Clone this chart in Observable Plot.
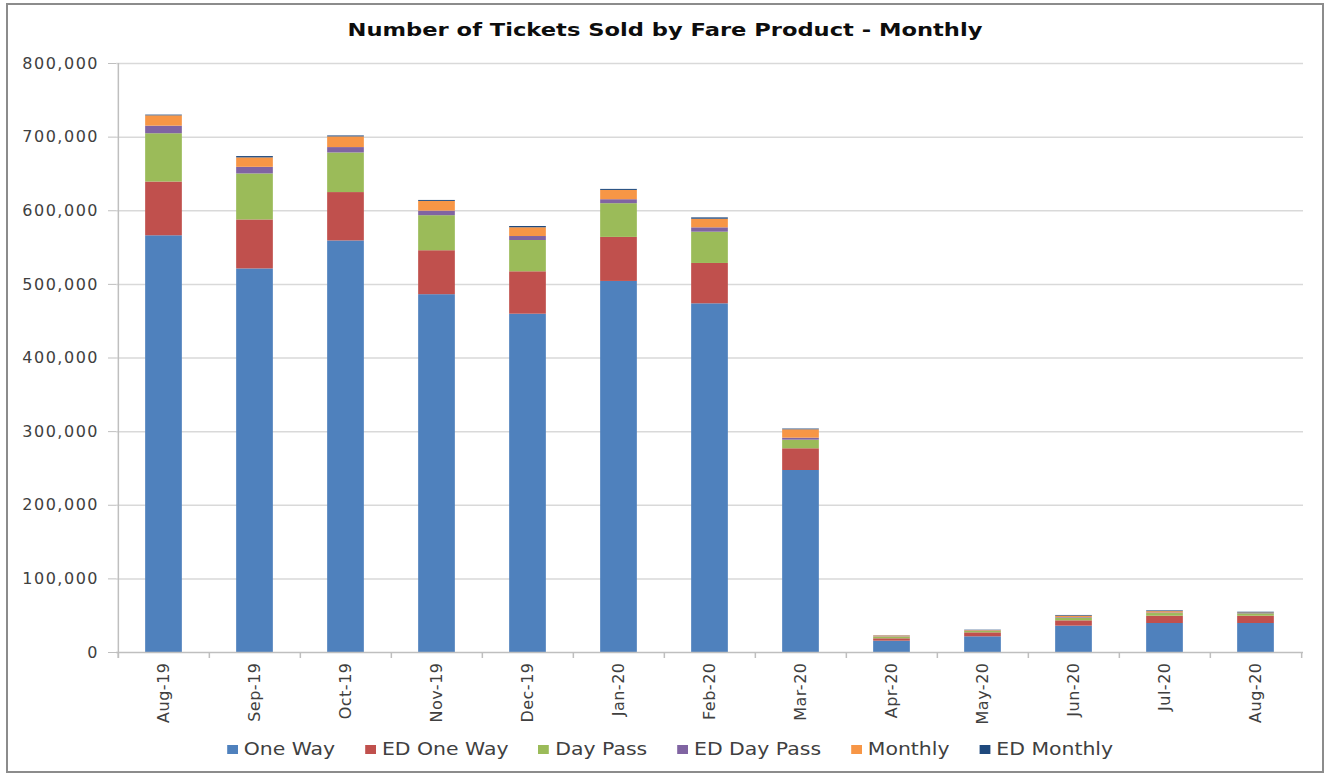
<!DOCTYPE html>
<html>
<head>
<meta charset="utf-8">
<script src="https://cdn.jsdelivr.net/npm/d3@7"></script>
<script src="https://cdn.jsdelivr.net/npm/@observablehq/plot@0.6"></script>
<style>
  html, body { margin: 0; padding: 0; background: #ffffff; width: 1330px; height: 774px; overflow: hidden; }
  body { font-family: "DejaVu Sans", sans-serif; position: relative; }
  #frame { position: absolute; left: 6px; top: 3px; width: 1318px; height: 770px; box-sizing: border-box; border: 2px solid #8c8c8c; pointer-events: none; }
  #title { position: absolute; left: 0; top: 19px; width: 1330px; text-align: center; font-weight: bold; font-size: 18px; color: #0d0d0d; transform: scaleX(1.255); transform-origin: 665px 0; white-space: nowrap; }
  #chart { position: absolute; left: 0; top: 48px; }
  #legend { position: absolute; left: 0; top: 739px; width: 1330px; display: flex; justify-content: center; gap: 25px; font-size: 17px; color: #404040; transform: translateX(6px) scaleX(1.2); transform-origin: 670px 0; white-space: nowrap; }
  #legend .item { display: flex; align-items: center; gap: 5px; }
  #legend .sw { width: 9px; height: 9px; display: inline-block; }
  g[aria-label="y-axis tick label"] text { letter-spacing: 1.5px; }
  g[aria-label="x-axis tick label"] text { letter-spacing: 0.5px; }
</style>
</head>
<body>
<div id="title">Number of Tickets Sold by Fare Product - Monthly</div>
<div id="chart"></div>
<div id="legend"></div>
<div id="frame"></div>
<script>
// ---- Data ----
const months = ["Aug-19", "Sep-19", "Oct-19", "Nov-19", "Dec-19", "Jan-20", "Feb-20", "Mar-20", "Apr-20", "May-20", "Jun-20", "Jul-20", "Aug-20"];
const products = ["One Way", "ED One Way", "Day Pass", "ED Day Pass", "Monthly", "ED Monthly"];
const colors = ["#4F81BD", "#C0504D", "#9BBB59", "#8064A2", "#F79646", "#1F497D"];

const oneWay    = [566000, 521000, 559000, 486000, 459500, 504000, 473600, 247200, 15400, 21300, 35800, 39400, 39400];
const edOneWay  = [73000, 66500, 65700, 59700, 57600, 59800, 54800, 29500, 3200, 5400, 7200, 9900, 9900];
const dayPass   = [65600, 62500, 53800, 47600, 42500, 45800, 42500, 11700, 2300, 1800, 3600, 3600, 3200];
const edDayPass = [10300, 9000, 7300, 6200, 5400, 5400, 5900, 2700, 500, 400, 800, 800, 500];
const monthly   = [14000, 12800, 14500, 13200, 11900, 12600, 11700, 11400, 1000, 800, 2000, 1800, 700];
const edMonthly = [1000, 1800, 1300, 1300, 1700, 1400, 1800, 1000, 300, 600, 900, 1000, 1000];

const yTicks = [0, 100000, 200000, 300000, 400000, 500000, 600000, 700000, 800000];

// ---- Build table ----
const series = [oneWay, edOneWay, dayPass, edDayPass, monthly, edMonthly];
const table = months.flatMap((m, i) => products.map((p, j) => ({month: m, product: p, value: series[j][i]})));

const W = 1330, H = 682, ML = 116, MR = 27, MT = 15, MB = 78;
const step = (W - ML - MR) / months.length;
const barW = 37;
const inset = (step - barW) / 2;
const axisColor = "#bfbfbf";

const plot = Plot.plot({
  width: W, height: H,
  marginLeft: ML, marginRight: MR, marginTop: MT, marginBottom: MB,
  style: {fontFamily: "DejaVu Sans, sans-serif", background: "transparent", overflow: "visible"},
  x: {domain: months, padding: 0, label: null},
  y: {domain: [0, 800000], label: null},
  color: {domain: products, range: colors},
  marks: [
    Plot.gridY(yTicks.filter(d => d > 0), {stroke: "#d9d9d9", strokeOpacity: 1, strokeWidth: 1.5}),
    Plot.barY(table, {x: "month", y: "value", fill: "product", insetLeft: inset, insetRight: inset}),
    Plot.ruleY([0], {stroke: axisColor, strokeWidth: 1.5}),
    Plot.ruleX([months[0]], {x: d => d, y1: 800000, y2: 0, insetBottom: -6, dx: -step / 2, stroke: axisColor, strokeWidth: 1.5}),
    Plot.ruleX(months, {x: d => d, y1: 0, y2: 0, insetBottom: -6, dx: -step / 2, stroke: axisColor, strokeWidth: 1.5}),
    Plot.ruleX([months[months.length - 1]], {x: d => d, y1: 0, y2: 0, insetBottom: -6, dx: step / 2, stroke: axisColor, strokeWidth: 1.5}),
    Plot.axisY(yTicks, {tickFormat: d3.format(","), tickSize: 8, tickPadding: 9.5, stroke: axisColor, fill: "#404040", fontSize: 16}),
    Plot.axisX({tickSize: 0, tickPadding: 10, tickRotate: -90, fill: "#404040", fontSize: 16})
  ]
});
document.getElementById("chart").appendChild(plot);

// ---- Legend ----
const legend = d3.select("#legend");
products.forEach((p, i) => {
  const item = legend.append("div").attr("class", "item");
  item.append("span").attr("class", "sw").style("background", colors[i]);
  item.append("span").text(p);
});
</script>
</body>
</html>
